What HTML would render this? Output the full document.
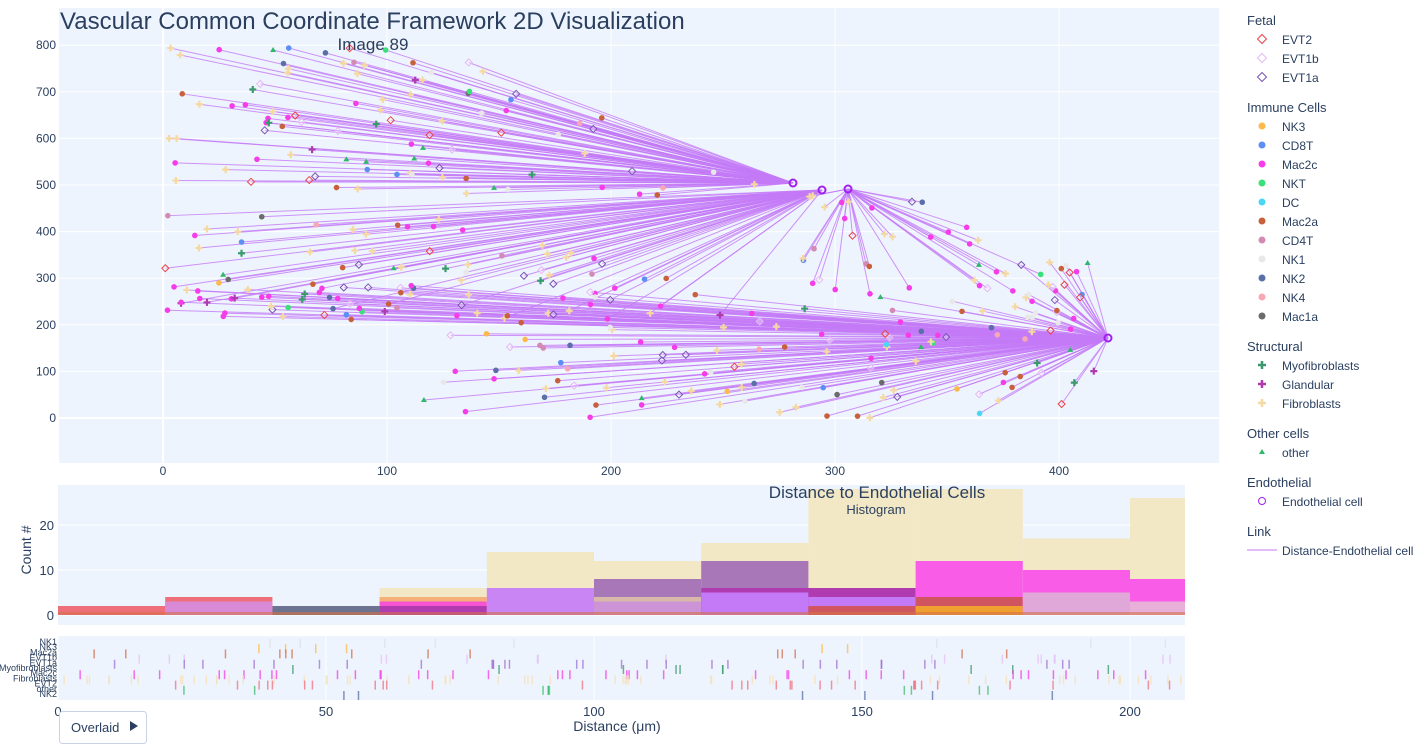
<!DOCTYPE html>
<html><head><meta charset="utf-8"><style>
body{margin:0;background:#fff;font-family:"Liberation Sans",Arial,sans-serif;}
svg text{font-family:"Liberation Sans",Arial,sans-serif;fill:#2a3f5f;}
</style></head><body>
<svg id="s" width="1424" height="748" xmlns="http://www.w3.org/2000/svg">
<rect x="59" y="8" width="1160" height="455" fill="#eef4fd"/>
<rect x="58" y="485" width="1127" height="140" fill="#eef4fd"/>
<rect x="58" y="636" width="1127" height="64" fill="#eef4fd"/>
<g id="grid"></g>
<g id="lines"></g>
<g id="pts"></g>
<g id="hist"></g>
<g id="rug"></g>
<text x="60" y="29" font-size="24">Vascular Common Coordinate Framework 2D Visualization</text>
<text x="373" y="50" font-size="17" text-anchor="middle">Image 89</text>
<text x="877" y="498" font-size="17" text-anchor="middle">Distance to Endothelial Cells</text>
<text x="876" y="514" font-size="13" text-anchor="middle">Histogram</text>
<text x="617" y="731" font-size="14" text-anchor="middle">Distance (μm)</text>
<text x="31" y="550" font-size="14" text-anchor="middle" transform="rotate(-90 31 550)">Count #</text>
<rect x="59.5" y="711.5" width="87" height="32" rx="3" fill="#fff" stroke="#c8d4e3"/>
<text x="71" y="732" font-size="13">Overlaid</text>
<path d="M130 721 L138 726 L130 731 Z" fill="#2a3f5f"/>
<g id="leg"></g>
</svg>
<script>
var NS="http://www.w3.org/2000/svg";
function el(p,t,a,txt){var e=document.createElementNS(NS,t);for(var k in a)e.setAttribute(k,a[k]);if(txt!==undefined)e.textContent=txt;document.getElementById(p).appendChild(e);return e;}
var seed=11;function r(){seed=(seed*16807)%2147483647;return (seed-1)/2147483646;}
for(var v=0;v<=800;v+=100){var y=418-0.466*v;el("grid","line",{x1:59,x2:1219,y1:y,y2:y,stroke:"#fff","stroke-width":v==0?2:1});el("grid","text",{x:56,y:y+4,"font-size":12,"text-anchor":"end"},v);}
for(var v=0;v<=400;v+=100){var x=163+2.24*v;el("grid","line",{x1:x,x2:x,y1:8,y2:463,stroke:"#fff","stroke-width":v==0?2:1});el("grid","text",{x:x,y:475,"font-size":12,"text-anchor":"middle"},v);}
[0,10,20].forEach(function(v){var y=615-4.5*v;el("grid","line",{x1:58,x2:1185,y1:y,y2:y,stroke:"#fff"});el("grid","text",{x:54,y:y+5,"font-size":13,"text-anchor":"end"},v);});
[0,50,100,150,200].forEach(function(v){var x=58+5.36*v;el("grid","line",{x1:x,x2:x,y1:636,y2:700,stroke:"#fff"});el("grid","text",{x:x,y:716,"font-size":13,"text-anchor":"middle"},v);});
var types=[["#fdb94a","c"],["#5c8ff5","c"],["#f53ce8","c"],["#3ce07a","c"],["#4cd6f5","c"],["#c8603c","c"],["#d38ab5","c"],["#e8e8e8","c"],["#5a6fa8","c"],["#f7a8b4","c"],["#6b6b6b","c"],["#3a9a6e","+"],["#b03ab0","+"],["#f5d9a3","+"],["#2fb86a","t"],["#e8434b","d"],["#e6b8f5","d"],["#7a55b5","d"]];
var weights=[1,1,6,0.5,0.2,2,1,1,1,1,0.5,1.2,0.8,9,1.5,2,2,3];
var wsum=weights.reduce(function(a,b){return a+b});
function pick(){var q=r()*wsum;for(var i=0;i<weights.length;i++){q-=weights[i];if(q<=0)return types[i];}return types[0];}
var pts=[];
function grp(n,x0,x1,y0,y1,hx,hy){for(var i=0;i<n;i++){var y=y0+r()*(y1-y0);var xm=x1-(y1-y)/(y1-y0)*(x1-x0)*0.55;pts.push([x0+r()*(xm-x0),y,hx,hy]);}}
grp(95,165,780,48,195,793,183);
grp(65,165,810,215,320,822,190);
grp(35,800,1090,195,295,848,189);
function grp2(n,x0,x1,y0,y1,hx,hy){for(var i=0;i<n;i++)pts.push([x0+r()*(x1-x0),y0+r()*(y1-y0),hx,hy]);}
grp2(35,160,420,285,320,1108,338);
grp2(125,420,1100,290,420,1108,338);
grp2(20,1000,1100,260,330,1108,338);
pts.forEach(function(p){el("lines","line",{x1:p[0],y1:p[1],x2:p[2],y2:p[3],stroke:"#c47af7","stroke-width":1,opacity:0.8});});
pts.forEach(function(p){var t=pick(),x=p[0],y=p[1];
 if(t[1]=="c")el("pts","circle",{cx:x,cy:y,r:2.8,fill:t[0]});
 else if(t[1]=="+")el("pts","path",{d:"M"+(x-3.5)+" "+y+"h7M"+x+" "+(y-3.5)+"v7",stroke:t[0],"stroke-width":2.2});
 else if(t[1]=="t")el("pts","path",{d:"M"+x+" "+(y-3)+"l3 5h-6z",fill:t[0]});
 else el("pts","path",{d:"M"+x+" "+(y-3.5)+"l3.5 3.5l-3.5 3.5l-3.5 -3.5z",fill:"#fff","fill-opacity":0.3,stroke:t[0]});
});
[[793,183],[822,190],[848,189],[1108,338]].forEach(function(h){el("pts","circle",{cx:h[0],cy:h[1],r:3.5,fill:"none",stroke:"#a020f0","stroke-width":2});});
function bar(b,c,col,op){var x=58+b*107.2,w=Math.min(107.2,1185-x);el("hist","rect",{x:x,y:615-4.5*c,width:w,height:4.5*c,fill:col,opacity:op||1});}
var fib=[0,0,0,6,14,12,16,28,28,17,26];fib.forEach(function(c,i){if(c)bar(i,c,"#f3e8c6");});
bar(0,2,"#ee6e7a");bar(1,4,"#ee6e7a");bar(2,2,"#6b7390");
bar(1,3,"#d98ad6");bar(3,4,"#f5b07a");bar(3,3,"#f53ce8",0.8);bar(3,2,"#b03ab0");
bar(4,6,"#c47af7",0.9);bar(5,8,"#a877b8");bar(5,4,"#d8b8a8");bar(5,3,"#c47af7",0.6);
bar(6,12,"#a877b8");bar(6,6,"#b03ab0");bar(6,5,"#c47af7");bar(7,6,"#b03ab0");bar(7,4,"#c47af7");bar(7,2,"#d05560");
bar(8,12,"#f95de8");bar(8,4,"#d05560");bar(8,2,"#f0a030");bar(9,10,"#f95de8");bar(9,5,"#e0a8d8");bar(10,8,"#f95de8");bar(10,3,"#e8b0d8");
el("hist","rect",{x:58,y:612,width:1127,height:3,fill:"#d4724a",opacity:0.6});
var rl=["NK1","NK3","Mac2a","EVT1b","EVT1a","Myofibroblasts","Mac2c","Fibroblasts","EVT2","other","NK2"];
var rc=["#e0e0e8","#fdb94a","#d07050","#e6c0f5","#a070d0","#3a9a6e","#f53ce8","#f5e0b8","#f07080","#3ac070","#5a6fa8"];
var rn=[8,6,14,18,30,10,40,60,30,10,6];
rl.forEach(function(l,i){var y=641+i*5.2;el("rug","text",{x:57,y:y+4,"font-size":9,"text-anchor":"end"},l);
 for(var k=0;k<rn[i];k++){var x=60+r()*1120;el("rug","rect",{x:x,y:y-2,width:1.5,height:9,fill:rc[i],opacity:0.75});}});
var L=[["h","Fetal",20],["d","EVT2",39,"#e8434b"],["d","EVT1b",58,"#e6b8f5"],["d","EVT1a",77,"#7a55b5"],["h","Immune Cells",107],
["c","NK3",126,"#fdb94a"],["c","CD8T",145,"#5c8ff5"],["c","Mac2c",164,"#f53ce8"],["c","NKT",183,"#3ce07a"],["c","DC",202,"#4cd6f5"],["c","Mac2a",221,"#c8603c"],["c","CD4T",240,"#d38ab5"],["c","NK1",259,"#e8e8e8"],["c","NK2",278,"#5a6fa8"],["c","NK4",297,"#f7a8b4"],["c","Mac1a",316,"#6b6b6b"],
["h","Structural",346],["+","Myofibroblasts",365,"#3a9a6e"],["+","Glandular",384,"#b03ab0"],["+","Fibroblasts",403,"#f5d9a3"],
["h","Other cells",433],["t","other",452,"#2fb86a"],["h","Endothelial",482],["o","Endothelial cell",501,"#a020f0"],["h","Link",531],["l","Distance-Endothelial cell",550,"#c47af7"]];
L.forEach(function(e){var y=e[2];if(e[0]=="h"){el("leg","text",{x:1247,y:y+5,"font-size":13},e[1]);return;}
 el("leg","text",{x:1282,y:y+5,"font-size":12},e[1]);var x=1262,c=e[3];
 if(e[0]=="c")el("leg","circle",{cx:x,cy:y,r:3.5,fill:c});
 else if(e[0]=="d")el("leg","path",{d:"M"+x+" "+(y-4.5)+"l4.5 4.5l-4.5 4.5l-4.5 -4.5z",fill:"none",stroke:c});
 else if(e[0]=="+")el("leg","path",{d:"M"+(x-4)+" "+y+"h8M"+x+" "+(y-4)+"v8",stroke:c,"stroke-width":2.5});
 else if(e[0]=="t")el("leg","path",{d:"M"+x+" "+(y-3)+"l3 5h-6z",fill:c});
 else if(e[0]=="o")el("leg","circle",{cx:x,cy:y,r:3.5,fill:"none",stroke:c});
 else el("leg","line",{x1:1247,x2:1277,y1:y,y2:y,stroke:c});
});
</script>
</body></html>
